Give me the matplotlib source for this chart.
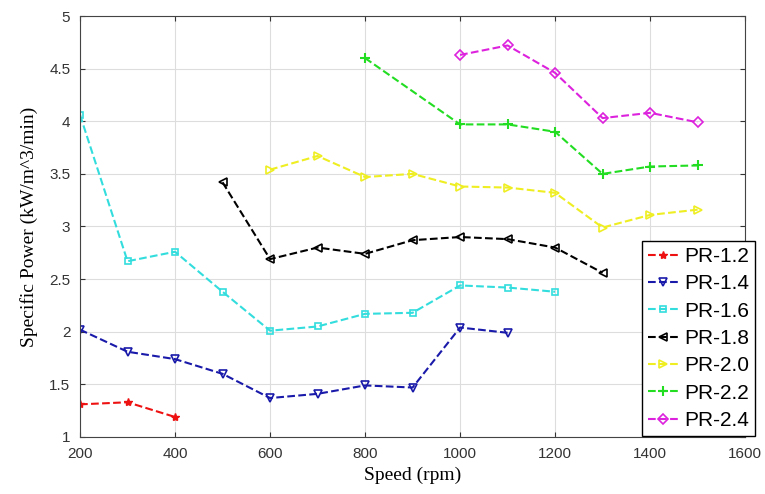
import numpy as np
import matplotlib.pyplot as plt

# Data
speed_12 = [200, 300, 400]
pr_12 = [1.31, 1.33, 1.19]

speed_14 = [200, 300, 400, 500, 600, 700, 800, 900, 1000, 1100]
pr_14 = [2.02, 1.81, 1.74, 1.60, 1.37, 1.41, 1.49, 1.47, 2.04, 1.99]

speed_16 = [200, 300, 400, 500, 600, 700, 800, 900, 1000, 1100, 1200]
pr_16 = [4.06, 2.67, 2.76, 2.38, 2.01, 2.05, 2.17, 2.18, 2.44, 2.42, 2.38]

speed_18 = [500, 600, 700, 800, 900, 1000, 1100, 1200, 1300]
pr_18 = [3.42, 2.69, 2.80, 2.74, 2.87, 2.90, 2.88, 2.80, 2.56]

speed_20 = [600, 700, 800, 900, 1000, 1100, 1200, 1300, 1400, 1500]
pr_20 = [3.54, 3.67, 3.47, 3.50, 3.38, 3.37, 3.32, 2.99, 3.11, 3.16]

speed_22 = [800, 1000, 1100, 1200, 1300, 1400, 1500]
pr_22 = [4.60, 3.97, 3.97, 3.90, 3.50, 3.57, 3.58]

speed_24 = [1000, 1100, 1200, 1300, 1400, 1500]
pr_24 = [4.63, 4.72, 4.46, 4.03, 4.08, 3.99]

labels = ['PR-1.2', 'PR-1.4', 'PR-1.6', 'PR-1.8', 'PR-2.0', 'PR-2.2', 'PR-2.4']

fig = plt.figure(figsize=(7.65, 4.94), dpi=100)
ax = fig.add_axes([0.1046, 0.1154, 0.8694, 0.8522])

ax.plot(speed_12, pr_12, '--', color='#ee1111', marker='*', ms=6, label=labels[0])
ax.plot(speed_14, pr_14, '--', color='#1a1aaa', marker='v', ms=6, mfc='none', mew=1.2, label=labels[1])
ax.plot(speed_16, pr_16, '--', color='#33dddd', marker='s', ms=5, mfc='none', mew=1.2, label=labels[2])
ax.plot(speed_18, pr_18, '--', color='black', marker='<', ms=6, mfc='none', mew=1.2, label=labels[3])
ax.plot(speed_20, pr_20, '--', color='#eeee22', marker='>', ms=6, mfc='none', mew=1.2, label=labels[4])
ax.plot(speed_22, pr_22, '--', color='#22dd22', marker='+', ms=7, mew=1.5, label=labels[5])
ax.plot(speed_24, pr_24, '--', color='#dd22dd', marker='D', ms=5, mfc='none', mew=1.2, label=labels[6])

ax.set_xlim(200, 1600)
ax.set_ylim(1, 5)
ax.set_xticks(np.arange(200, 1601, 200))
ax.set_yticks([1, 1.5, 2, 2.5, 3, 3.5, 4, 4.5, 5])
ax.set_yticklabels(['1', '1.5', '2', '2.5', '3', '3.5', '4', '4.5', '5'])
ax.tick_params(direction='in', top=True, right=True, labelsize=11, colors='#333333', pad=7)
for lab in ax.get_xticklabels() + ax.get_yticklabels():
    lab.set_family('Liberation Sans')
ax.grid(True, color='#dddddd', lw=0.8)
for s in ax.spines.values():
    s.set_color('#444444')

ax.set_xlabel('Speed (rpm)', family='Liberation Serif', fontsize=14)
ax.set_ylabel('Specific Power (kW/m^3/min)', family='Liberation Serif', fontsize=14, labelpad=8)

leg = ax.legend(loc='lower right', bbox_to_anchor=(0.987, 0.117), bbox_transform=fig.transFigure,
                borderaxespad=0, fancybox=False, edgecolor='black', framealpha=1,
                prop={'family': 'Liberation Sans', 'size': 15}, handlelength=1.4,
                handletextpad=0.3, labelspacing=0.4, borderpad=0.3)
leg.get_frame().set_linewidth(1.0)

fig.savefig('out.png', dpi=100)
